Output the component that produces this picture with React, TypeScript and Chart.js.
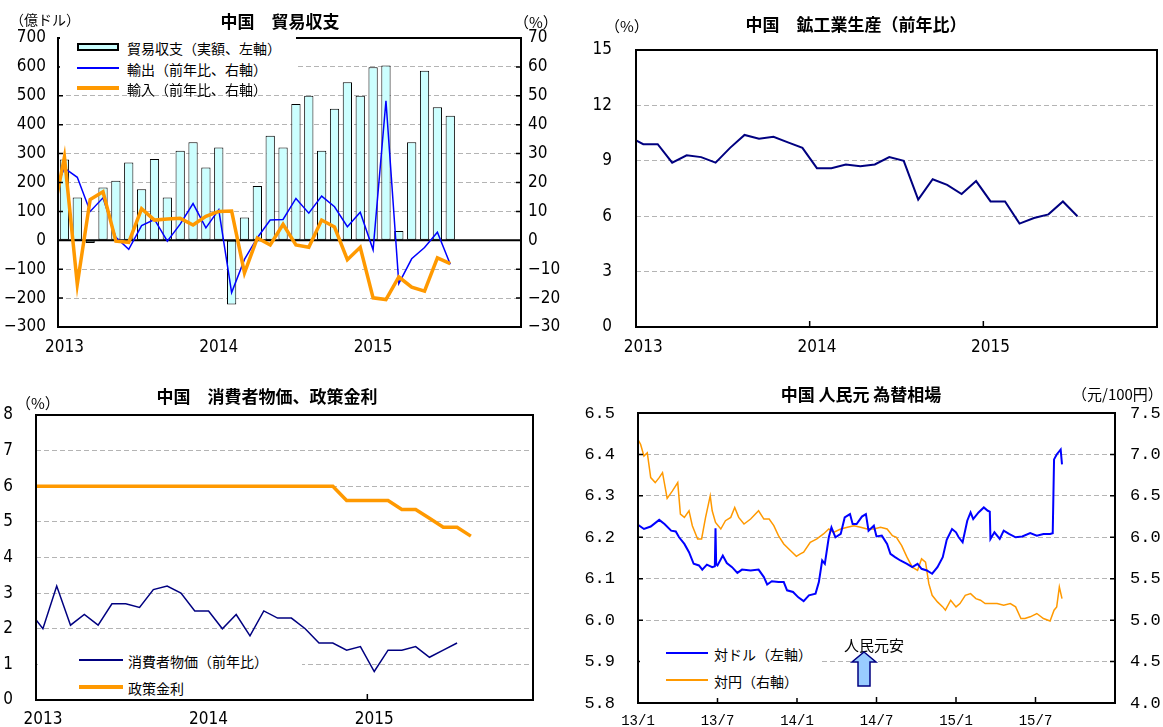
import React, { useEffect, useRef } from "react";
import { Chart, registerables } from "chart.js";
Chart.register(...registerables);

// ---------------- data ----------------
const yearLabels = ["2013", "2014", "2015"];
const yearTickValues = [0, 12, 24];
const yearBoundaries = [11.5, 23.5];

// 貿易収支 (億ドル) Jan 2013 – Jul 2015
const tradeBalance = [280, 148, -9, 183, 206, 269, 177, 281, 148, 310, 339, 252, 321, -222, 79, 188, 362, 321, 472, 500, 310, 455, 547, 500, 599, 605, 32, 339, 587, 460, 431];
// 輸出 前年比 (%) Dec 2012 – Jul 2015
const exportYoY = [14.1, 25.0, 21.8, 10.0, 14.7, 1.0, -3.1, 5.1, 7.2, -0.3, 5.6, 12.7, 4.3, 10.6, -18.1, -6.6, 0.9, 7.0, 7.2, 14.5, 9.4, 15.3, 11.6, 4.7, 9.7, -3.3, 48.3, -15.0, -6.4, -2.5, 2.8, -8.3];
// 輸入 前年比 (%) Dec 2012 – Jul 2015
const importYoY = [6.0, 28.8, -15.2, 14.1, 16.8, -0.3, -0.7, 10.9, 7.0, 7.4, 7.6, 5.3, 8.3, 10.0, 10.1, -11.3, 0.8, -1.6, 5.5, -1.6, -2.4, 7.0, 4.6, -6.7, -2.4, -19.9, -20.5, -12.7, -16.2, -17.6, -6.1, -8.1];

// 鉱工業生産 前年比 (%) Dec 2012 – Jul 2015
const industrialYoY = [10.3, 9.9, 9.9, 8.9, 9.3, 9.2, 8.9, 9.7, 10.4, 10.2, 10.3, 10.0, 9.7, 8.6, 8.6, 8.8, 8.7, 8.8, 9.2, 9.0, 6.9, 8.0, 7.7, 7.2, 7.9, 6.8, 6.8, 5.6, 5.9, 6.1, 6.8, 6.0];

// 消費者物価 前年比 (%) Dec 2012 – Jul 2015
const cpiYoY = [2.5, 2.0, 3.2, 2.1, 2.4, 2.1, 2.7, 2.7, 2.6, 3.1, 3.2, 3.0, 2.5, 2.5, 2.0, 2.4, 1.8, 2.5, 2.3, 2.3, 2.0, 1.6, 1.6, 1.4, 1.5, 0.8, 1.4, 1.4, 1.5, 1.2, 1.4, 1.6];
// 政策金利 (%) Dec 2012 – Aug 2015
const policyRate = [6.0, 6.0, 6.0, 6.0, 6.0, 6.0, 6.0, 6.0, 6.0, 6.0, 6.0, 6.0, 6.0, 6.0, 6.0, 6.0, 6.0, 6.0, 6.0, 6.0, 6.0, 6.0, 6.0, 5.6, 5.6, 5.6, 5.6, 5.35, 5.35, 5.1, 4.85, 4.85, 4.6];

// 人民元 為替相場: time in months since Jan 2013
const fxTickValues = [0, 6, 12, 18, 24, 30];
const fxTickLabels = ["13/1", "13/7", "14/1", "14/7", "15/1", "15/7"];
const usdMonths = [0, 0.45, 0.96, 1.6, 2, 2.5, 2.85, 3.1, 3.5, 3.85, 4.2, 4.6, 4.85, 5.2, 5.6, 5.8, 5.85, 5.9, 6.0, 6.4, 6.7, 7.1, 7.5, 7.85, 8.5, 9.1, 9.5, 9.75, 10.1, 10.6, 11, 11.25, 11.7, 12.1, 12.5, 12.9, 13.4, 13.65, 13.9, 14.1, 14.4, 14.6, 14.9, 15.3, 15.6, 16, 16.2, 16.5, 16.9, 17.2, 17.4, 17.8, 18, 18.4, 18.8, 19.05, 19.4, 19.8, 20.3, 20.7, 21.1, 21.4, 21.8, 22.2, 22.6, 23, 23.3, 23.7, 24.0, 24.2, 24.5, 24.85, 25.1, 25.3, 25.7, 26.1, 26.4, 26.55, 26.6, 26.9, 27.3, 27.6, 28, 28.5, 29, 29.6, 30.1, 30.6, 31.1, 31.3, 31.4, 31.6, 31.9, 32];
const usdRate = [6.230, 6.220, 6.226, 6.242, 6.232, 6.216, 6.214, 6.200, 6.184, 6.164, 6.136, 6.132, 6.122, 6.134, 6.128, 6.130, 6.222, 6.135, 6.132, 6.156, 6.138, 6.128, 6.114, 6.122, 6.120, 6.122, 6.104, 6.086, 6.094, 6.092, 6.092, 6.072, 6.068, 6.055, 6.046, 6.060, 6.064, 6.092, 6.144, 6.136, 6.200, 6.224, 6.200, 6.208, 6.248, 6.256, 6.232, 6.232, 6.250, 6.256, 6.216, 6.228, 6.202, 6.204, 6.184, 6.160, 6.152, 6.144, 6.136, 6.128, 6.136, 6.124, 6.120, 6.112, 6.128, 6.152, 6.194, 6.220, 6.212, 6.200, 6.188, 6.240, 6.260, 6.244, 6.260, 6.272, 6.264, 6.262, 6.196, 6.212, 6.196, 6.216, 6.208, 6.200, 6.202, 6.210, 6.204, 6.208, 6.208, 6.210, 6.388, 6.400, 6.412, 6.376];
const jpyMonths = [0, 0.2, 0.45, 0.7, 0.96, 1.3, 1.6, 1.85, 2.2, 2.6, 3.0, 3.2, 3.5, 3.85, 4.1, 4.5, 4.8, 5.1, 5.45, 5.6, 5.85, 6.25, 6.6, 7.0, 7.3, 7.6, 8.0, 8.5, 9.1, 9.5, 9.9, 10.25, 10.6, 11.0, 11.5, 11.95, 12.25, 12.5, 13.0, 13.5, 14.0, 14.4, 14.75, 15.3, 15.8, 16.3, 16.8, 17.3, 17.8, 18.3, 18.8, 19.2, 19.5, 19.9, 20.3, 20.7, 21.1, 21.4, 21.7, 21.95, 22.2, 22.6, 23.0, 23.2, 23.6, 24.0, 24.3, 24.7, 25.1, 25.5, 25.85, 26.2, 26.6, 27.1, 27.6, 28.1, 28.5, 28.9, 29.2, 29.6, 30.1, 30.6, 31.1, 31.4, 31.6, 31.8, 32.0];
const jpyRate = [7.18, 7.12, 6.98, 7.02, 6.72, 6.66, 6.72, 6.78, 6.47, 6.56, 6.66, 6.28, 6.24, 6.32, 6.14, 5.98, 5.98, 6.24, 6.50, 6.32, 6.18, 6.10, 6.20, 6.24, 6.36, 6.24, 6.16, 6.22, 6.32, 6.22, 6.22, 6.14, 6.02, 5.92, 5.84, 5.77, 5.80, 5.82, 5.94, 5.98, 6.04, 6.10, 6.06, 6.10, 6.12, 6.14, 6.12, 6.10, 6.10, 6.12, 6.10, 6.02, 6.00, 5.90, 5.76, 5.64, 5.60, 5.74, 5.70, 5.44, 5.30, 5.22, 5.16, 5.12, 5.24, 5.16, 5.20, 5.30, 5.32, 5.26, 5.24, 5.20, 5.20, 5.20, 5.18, 5.20, 5.16, 5.02, 5.02, 5.04, 5.08, 5.02, 4.99, 5.12, 5.16, 5.40, 5.26];

// ---------------- styling ----------------
const NUM = '"Liberation Sans Narrow", "Arial Narrow", "DejaVu Sans Condensed", "Liberation Sans", sans-serif';
const MONO = '"Liberation Mono", "DejaVu Sans Mono", monospace';
const CJK = '"Noto Sans CJK JP", sans-serif';
const GRID = "#b4b4b4";
const BLUE = "#0000FF";
const NAVY = "#000080";
const ORANGE = "#FF9900";

const monthly = (vals: number[], start: number) => vals.map((v, i) => ({ x: start + i, y: v }));
const paired = (xs: number[], ys: number[]) => xs.map((x, i) => ({ x, y: ys[i] }));

const framePlugin = {
  id: "frame",
  beforeDatasetsDraw(chart: any, _a: any, opts: any) {
    if (!opts || !opts.zeroAxis) return;
    const { ctx, chartArea } = chart;
    const y = chart.scales[opts.zeroAxis].getPixelForValue(0);
    ctx.save();
    ctx.strokeStyle = "#000";
    ctx.lineWidth = 2;
    ctx.beginPath();
    ctx.moveTo(chartArea.left, y);
    ctx.lineTo(chartArea.right, y);
    ctx.stroke();
    ctx.restore();
  },
  afterDatasetsDraw(chart: any, _a: any, opts: any) {
    const { ctx, chartArea } = chart;
    const { left, right, top, bottom } = chartArea;
    ctx.save();
    ctx.strokeStyle = "#000";
    ctx.lineWidth = 2;
    ctx.strokeRect(left, top, right - left, bottom - top);
    ctx.lineWidth = 1.5;
    (opts.xTicks || []).forEach((v: number) => {
      const x = chart.scales.x.getPixelForValue(v);
      ctx.beginPath();
      ctx.moveTo(x, bottom);
      ctx.lineTo(x, bottom - 6);
      ctx.stroke();
    });
    (opts.yTicks || []).forEach((v: number) => {
      const y = chart.scales.y.getPixelForValue(v);
      ctx.beginPath();
      ctx.moveTo(left, y);
      ctx.lineTo(left + 5, y);
      ctx.moveTo(right, y);
      ctx.lineTo(right - 5, y);
      ctx.stroke();
    });
    ctx.restore();
  },
};

function monthAxis(padding: number, height: number, fontSize: number) {
  return {
    type: "linear",
    min: -0.5,
    max: 35.5,
    offset: false,
    grid: { display: false, drawTicks: false },
    border: { display: false },
    afterBuildTicks: (s: any) => {
      s.ticks = yearTickValues.map((v) => ({ value: v }));
    },
    afterFit: (s: any) => {
      s.height = height;
      s.paddingLeft = 0;
      s.paddingRight = 0;
    },
    ticks: {
      autoSkip: false,
      maxRotation: 0,
      padding,
      color: "#000",
      font: { family: NUM, size: fontSize },
      callback: (_v: any, i: number) => yearLabels[i],
    },
  };
}

function valueAxis(opts: {
  position: string; min: number; max: number; step: number; width: number; padding: number;
  grid: boolean; font: string; size: number; fmt?: (v: number) => string; hideZero?: boolean;
}) {
  return {
    type: "linear",
    position: opts.position,
    min: opts.min,
    max: opts.max,
    grid: {
      display: opts.grid,
      drawTicks: false,
      lineWidth: 1,
      color: (c: any) => {
        const v = c.tick ? c.tick.value : NaN;
        const eps = 1e-6;
        if (Math.abs(v - opts.min) < eps || Math.abs(v - opts.max) < eps) return "rgba(0,0,0,0)";
        if (opts.hideZero && Math.abs(v) < eps) return "rgba(0,0,0,0)";
        return GRID;
      },
    },
    border: { display: false, dash: [5, 3] },
    afterFit: (s: any) => {
      s.width = opts.width;
      s.paddingTop = 0;
      s.paddingBottom = 0;
    },
    ticks: {
      stepSize: opts.step,
      padding: opts.padding,
      color: "#000",
      font: { family: opts.font, size: opts.size },
      callback: (v: any) => (opts.fmt ? opts.fmt(Number(v)) : String(v).replace("-", "\u2212")),
    },
  };
}

const baseOptions = (padding: any) => ({
  responsive: false,
  animation: false,
  devicePixelRatio: 1,
  layout: { padding },
  plugins: { legend: { display: false }, tooltip: { enabled: false }, title: { display: false } },
});

// ---------------- chart configs ----------------
function tradeConfig(): any {
  return {
    type: "bar",
    data: {
      datasets: [
        { type: "line", data: monthly(importYoY, -1), yAxisID: "y1", borderColor: ORANGE, borderWidth: 3.5, pointRadius: 0, order: 1 },
        { type: "line", data: monthly(exportYoY, -1), yAxisID: "y1", borderColor: BLUE, borderWidth: 1.5, pointRadius: 0, order: 2 },
        { type: "bar", data: monthly(tradeBalance, 0), yAxisID: "y", backgroundColor: "#CCFFFF", borderColor: "#000", borderWidth: 1, borderSkipped: false, categoryPercentage: 0.8, barPercentage: 0.9, order: 3 },
      ],
    },
    options: {
      ...baseOptions({ top: 10, left: 0, right: 0, bottom: 0 }),
      scales: {
        x: monthAxis(10, 33, 17),
        y: valueAxis({ position: "left", min: -300, max: 700, step: 100, width: 58, padding: 12, grid: true, font: NUM, size: 17, hideZero: true }),
        y1: valueAxis({ position: "right", min: -30, max: 70, step: 10, width: 39, padding: 7, grid: false, font: NUM, size: 17 }),
      },
      plugins: {
        ...baseOptions({}).plugins,
        frame: { zeroAxis: "y", xTicks: [], yTicks: [-200, -100, 100, 200, 300, 400, 500, 600] },
      },
    },
    plugins: [framePlugin],
  };
}

function industryConfig(): any {
  return {
    type: "line",
    data: {
      datasets: [{ data: monthly(industrialYoY, -1), borderColor: NAVY, borderWidth: 2, pointRadius: 0 }],
    },
    options: {
      ...baseOptions({ top: 10, left: 0, right: 6, bottom: 0 }),
      scales: {
        x: monthAxis(10, 33, 17),
        y: valueAxis({ position: "left", min: 0, max: 15, step: 3, width: 56, padding: 24, grid: true, font: NUM, size: 17 }),
      },
      plugins: { ...baseOptions({}).plugins, frame: { xTicks: yearBoundaries, yTicks: [] } },
    },
    plugins: [framePlugin],
  };
}

function priceConfig(): any {
  return {
    type: "line",
    data: {
      datasets: [
        { data: monthly(policyRate, -1), borderColor: ORANGE, borderWidth: 3.5, pointRadius: 0, order: 1 },
        { data: monthly(cpiYoY, -1), borderColor: NAVY, borderWidth: 1.5, pointRadius: 0, order: 2 },
      ],
    },
    options: {
      ...baseOptions({ top: 15, left: 0, right: 27, bottom: 0 }),
      scales: {
        x: monthAxis(9, 27, 17),
        y: valueAxis({ position: "left", min: 0, max: 8, step: 1, width: 36, padding: 23, grid: true, font: NUM, size: 17 }),
      },
      plugins: { ...baseOptions({}).plugins, frame: { xTicks: [23.5], yTicks: [] } },
    },
    plugins: [framePlugin],
  };
}

function fxConfig(): any {
  return {
    type: "line",
    data: {
      datasets: [
        { data: paired(usdMonths, usdRate), yAxisID: "y", borderColor: BLUE, borderWidth: 2, pointRadius: 0, order: 1 },
        { data: paired(jpyMonths, jpyRate), yAxisID: "y1", borderColor: ORANGE, borderWidth: 1.5, pointRadius: 0, order: 2 },
      ],
    },
    options: {
      ...baseOptions({ top: 13, left: 0, right: 0, bottom: 0 }),
      scales: {
        x: {
          type: "linear",
          min: 0,
          max: 36,
          grid: { display: false, drawTicks: false },
          border: { display: false },
          afterBuildTicks: (s: any) => {
            s.ticks = fxTickValues.map((v) => ({ value: v }));
          },
          afterFit: (s: any) => {
            s.height = 24;
            s.paddingLeft = 0;
            s.paddingRight = 0;
          },
          ticks: {
            autoSkip: false,
            maxRotation: 0,
            padding: 10,
            color: "#000",
            font: { family: MONO, size: 14 },
            callback: (_v: any, i: number) => fxTickLabels[i],
          },
        },
        y: valueAxis({ position: "left", min: 5.8, max: 6.5, step: 0.1, width: 58, padding: 23, grid: true, font: MONO, size: 17, fmt: (v) => v.toFixed(1) }),
        y1: valueAxis({ position: "right", min: 4.0, max: 7.5, step: 0.5, width: 48, padding: 15, grid: false, font: MONO, size: 17, fmt: (v) => v.toFixed(1) }),
      },
      plugins: { ...baseOptions({}).plugins, frame: { xTicks: [6, 12, 18, 24, 30], yTicks: [5.9, 6.0, 6.1, 6.2, 6.3, 6.4] } },
    },
    plugins: [framePlugin],
  };
}

// ---------------- components ----------------
function Label(props: { x: number; y: number; size: number; bold?: boolean; center?: boolean; font?: string; children: React.ReactNode }) {
  return (
    <div
      style={{
        position: "absolute",
        left: props.x,
        top: props.y,
        transform: `translate(${props.center ? "-50%" : "0"}, -50%)`,
        fontSize: props.size,
        fontWeight: props.bold ? 700 : 400,
        fontFamily: props.font || CJK,
        whiteSpace: "nowrap",
        lineHeight: 1,
        color: "#000",
      }}
    >
      {props.children}
    </div>
  );
}

function Swatch(props: { x: number; y: number; w: number; h: number; color: string; border?: string }) {
  return (
    <div
      style={{
        position: "absolute",
        left: props.x,
        top: props.y - props.h / 2,
        width: props.w,
        height: props.h,
        background: props.color,
        border: props.border,
        boxSizing: "border-box",
      }}
    />
  );
}

function Box(props: { x: number; y: number; w: number; h: number }) {
  return <div style={{ position: "absolute", left: props.x, top: props.y, width: props.w, height: props.h, background: "#fff" }} />;
}

export default function App() {
  const r1 = useRef<HTMLCanvasElement>(null);
  const r2 = useRef<HTMLCanvasElement>(null);
  const r3 = useRef<HTMLCanvasElement>(null);
  const r4 = useRef<HTMLCanvasElement>(null);

  useEffect(() => {
    const charts = [
      new Chart(r1.current as HTMLCanvasElement, tradeConfig()),
      new Chart(r2.current as HTMLCanvasElement, industryConfig()),
      new Chart(r3.current as HTMLCanvasElement, priceConfig()),
      new Chart(r4.current as HTMLCanvasElement, fxConfig()),
    ];
    return () => charts.forEach((c) => c.destroy());
  }, []);

  const cv = (x: number, y: number): React.CSSProperties => ({ position: "absolute", left: x, top: y });

  return (
    <div style={{ position: "fixed", left: 0, top: 0, width: 1163, height: 727, background: "#fff", overflow: "hidden" }}>
      <canvas ref={r1} width={560} height={332} style={cv(0, 28)} />
      <canvas ref={r2} width={583} height={320} style={cv(580, 40)} />
      <canvas ref={r3} width={560} height={327} style={cv(0, 400)} />
      <canvas ref={r4} width={583} height={327} style={cv(580, 400)} />

      {/* Panel 1 texts */}
      <Label x={280} y={20} size={17} bold center>中国　貿易収支</Label>
      <Label x={10} y={19} size={14}>（億ドル）</Label>
      <Label x={514} y={21} size={15}>（%）</Label>
      <Box x={60} y={37} w={236} h={57} />
      <Swatch x={77} y={47} w={42} h={8} color="#CCFFFF" border="2px solid #000" />
      <Label x={127} y={48} size={14}>貿易収支（実額、左軸）</Label>
      <Swatch x={77} y={68} w={42} h={1.5} color={BLUE} />
      <Label x={127} y={69} size={14}>輸出（前年比、右軸）</Label>
      <Swatch x={77} y={88} w={42} h={4} color={ORANGE} />
      <Label x={127} y={89} size={14}>輸入（前年比、右軸）</Label>

      {/* Panel 2 texts */}
      <Label x={856} y={23} size={17} bold center>中国　鉱工業生産（前年比）</Label>
      <Label x={605} y={25} size={15}>（%）</Label>

      {/* Panel 3 texts */}
      <Label x={267} y={395} size={17} bold center>中国　消費者物価、政策金利</Label>
      <Label x={16} y={402} size={15}>（%）</Label>
      <Box x={38} y={642} w={264} h={56} />
      <Swatch x={79} y={660} w={44} h={2} color={NAVY} />
      <Label x={128} y={661} size={14}>消費者物価（前年比）</Label>
      <Swatch x={79} y={687} w={44} h={4} color={ORANGE} />
      <Label x={128} y={688} size={14}>政策金利</Label>

      {/* Panel 4 texts */}
      <Label x={861} y={393} size={17} bold center>中国 人民元 為替相場</Label>
      <Label x={1072} y={393} size={15}>（元/100円）</Label>
      <Box x={640} y={638} w={182} h={60} />
      <Swatch x={666} y={653} w={42} h={1.5} color={BLUE} />
      <Label x={714} y={654} size={14}>対ドル（左軸）</Label>
      <Swatch x={666} y={680} w={42} h={1.5} color={ORANGE} />
      <Label x={714} y={681} size={14}>対円（右軸）</Label>
      <Label x={874} y={644} size={15} center>人民元安</Label>
      <svg style={{ position: "absolute", left: 0, top: 0 }} width={1163} height={727}>
        <polygon
          points="864,652 876,662 870,662 870,686 858,686 858,662 852,662"
          fill="#99CCFF"
          stroke="#000080"
          strokeWidth={1.5}
        />
      </svg>
    </div>
  );
}
